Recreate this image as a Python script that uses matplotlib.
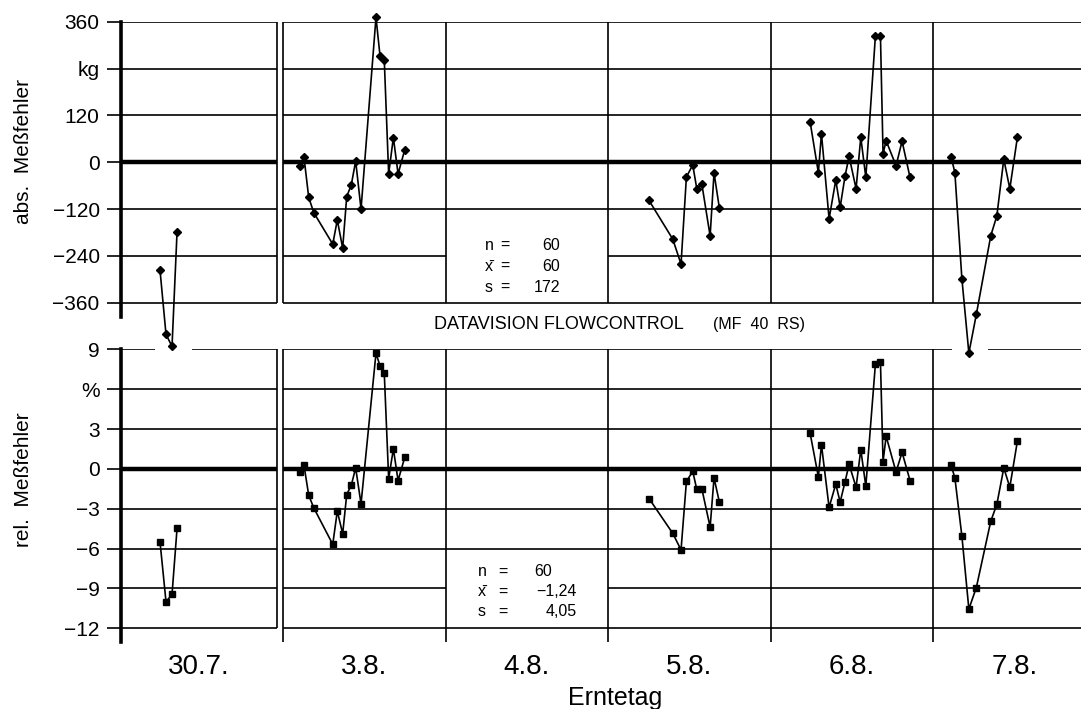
"""
Abs. und rel. Messfehler je Erntetag (DATAVISION FLOWCONTROL, MF 40 RS).
"""

import matplotlib
matplotlib.use("Agg")
import matplotlib.pyplot as plt

plt.rcParams['font.family'] = ['Liberation Sans', 'DejaVu Sans']

days = ['30.7.', '3.8.', '4.8.', '5.8.', '6.8.', '7.8.']

# position of each measurement inside its day section (0..1) and the errors
t_307 = [0.243, 0.280, 0.317, 0.348]
abs_307 = [-276, -441, -472, -178]
rel_307 = [-5.48, -10.0, -9.45, -4.48]

t_038 = [0.105, 0.129, 0.158, 0.189, 0.306, 0.334, 0.367, 0.392, 0.420,
         0.447, 0.480, 0.572, 0.597, 0.623, 0.650, 0.679, 0.708, 0.749]
abs_038 = [-9, 13, -90, -129, -210, -148, -220, -88, -58,
           3, -120, 371, 272, 262, -30, 63, -30, 32]
rel_038 = [-0.23, 0.27, -1.98, -2.93, -5.68, -3.18, -4.88, -1.93, -1.23,
           0.07, -2.63, 8.7, 7.75, 7.2, -0.73, 1.5, -0.88, 0.87]

t_058 = [0.252, 0.398, 0.449, 0.482, 0.521, 0.546, 0.577, 0.628, 0.652, 0.685]
abs_058 = [-98, -197, -261, -38, -7, -68, -56, -189, -27, -118]
rel_058 = [-2.23, -4.85, -6.1, -0.95, -0.18, -1.55, -1.5, -4.38, -0.68, -2.5]

t_068 = [0.243, 0.294, 0.313, 0.360, 0.401, 0.428, 0.458, 0.483, 0.526,
         0.555, 0.586, 0.645, 0.676, 0.692, 0.711, 0.772, 0.809, 0.858]
abs_068 = [104, -27, 73, -145, -46, -115, -36, 15, -68,
           64, -39, 324, 324, 22, 55, -9, 54, -39]
rel_068 = [2.7, -0.6, 1.82, -2.9, -1.15, -2.5, -0.98, 0.35, -1.38,
           1.45, -1.3, 7.9, 8.07, 0.55, 2.45, -0.23, 1.25, -0.88]

t_078 = [0.111, 0.134, 0.177, 0.220, 0.266, 0.355, 0.392, 0.435, 0.472, 0.519]
abs_078 = [14, -27, -298, -489, -390, -188, -138, 8, -68, 65]
rel_078 = [0.27, -0.68, -5.05, -10.55, -8.93, -3.93, -2.68, 0.07, -1.38, 2.12]

series = [(0, t_307, abs_307, rel_307),
          (1, t_038, abs_038, rel_038),
          (3, t_058, abs_058, rel_058),
          (4, t_068, abs_068, rel_068),
          (5, t_078, abs_078, rel_078)]

abs_ticks = [360, 240, 120, 0, -120, -240, -360]
abs_labels = ['360', 'kg', '120', '0', '\u2212120', '\u2212240', '\u2212360']
rel_ticks = [9, 6, 3, 0, -3, -6, -9, -12]
rel_labels = ['9', '%', '3', '0', '\u22123', '\u22126', '\u22129', '\u221212']

stats_abs = [('n', '60'), ('x\u0304', '60'), ('s', '172')]
stats_rel = [('n', '60'), ('x\u0304', '\u22121,24'), ('s', '4,05')]

# day sections on the x axis (first one is shorter, break before 3.8.)
sections = [(0, 0.963), (1, 2), (2, 3), (3, 4), (4, 5), (5, 5.91)]


def hgrid(ax, levels, skip=(), gaps=None):
    gaps = gaps or {}
    for i, (a, b) in enumerate(sections):
        for lv in levels:
            if (i, lv) in skip:
                continue
            lw = 3.2 if lv == 0 else 1.2
            pieces = [(a, b)]
            if (i, lv) in gaps:
                g0, g1 = gaps[(i, lv)]
                pieces = [(a, g0), (g1, b)]
            for p0, p1 in pieces:
                ax.hlines(lv, p0, p1, color='k', lw=lw, capstyle='butt')


def style_axis(ax, ticks, labels, ylim):
    ax.set_xlim(0, 5.91)
    ax.set_ylim(*ylim)
    for side in ['top', 'right', 'bottom']:
        ax.spines[side].set_visible(False)
    ax.spines['left'].set_linewidth(2.6)
    ax.set_yticks(ticks)
    ax.set_yticklabels(labels, fontsize=15)
    ax.tick_params(axis='y', length=10, width=1.2, pad=5)
    ax.set_xticks([])
    ax.patch.set_visible(False)


fig = plt.figure(figsize=(10.81, 7.09), dpi=100)
left = 120.5 / 1081
ax2 = fig.add_axes([left, 1 - 642 / 709, 1 - left, (642 - 349.3) / 709])
ax1 = fig.add_axes([left, 1 - 317 / 709, 1 - left, (317 - 21.7) / 709])
ax1.set_zorder(3)

style_axis(ax1, abs_ticks, abs_labels, (-396.6, 360))
style_axis(ax2, rel_ticks, rel_labels, (-13.03, 9))

hgrid(ax1, abs_ticks, skip=[(2, -240)])
hgrid(ax2, rel_ticks, skip=[(2, -9)],
      gaps={(0, 9): (0.212, 0.440), (5, 9): (5.117, 5.338)})

ax1.vlines([0.963, 1, 2, 3, 4, 5], -360, 360, color='k', lw=1.2)
ax2.vlines([0.963], -12, 9, color='k', lw=1.2)
ax2.vlines([1, 2, 3, 4, 5], -13.03, 9, color='k', lw=1.2)

for day, t, a, r in series:
    x = [day + v for v in t]
    ax1.plot(x, a, color='k', lw=1.2, marker='D', ms=4.5, clip_on=False,
             zorder=5)
    ax2.plot(x, r, color='k', lw=1.2, marker='s', ms=4.2, clip_on=False,
             zorder=5)

# day labels centred in their sections
for i, (a, b) in enumerate(sections):
    xc = 0.48 if i == 0 else a + 0.5
    ax2.text(xc, -13.9, days[i], ha='center', va='top', fontsize=20)

fig.text(615 / 1081, 1 - 705 / 709, 'Erntetag', ha='center', va='baseline',
         fontsize=18)
ax1.set_ylabel('abs.  Me\u00dffehler', fontsize=15)
ax2.set_ylabel('rel.  Me\u00dffehler', fontsize=15)
ax1.yaxis.set_label_coords((33 - 120.5) / 960.5, 0.559)
ax2.yaxis.set_label_coords((33 - 120.5) / 960.5, 0.553)

fig.text(434 / 1081, 1 - 325 / 709, 'DATAVISION FLOWCONTROL', ha='left',
         va='center', fontsize=13)
fig.text(713 / 1081, 1 - 325 / 709, '(MF  40  RS)', ha='left', va='center',
         fontsize=11.5)

# statistics boxes in the 4.8. section
for (sym, val), y in zip(stats_abs, [245, 266, 287]):
    fig.text(485 / 1081, 1 - y / 709, sym, ha='left', va='center', fontsize=11.5)
    fig.text(505 / 1081, 1 - y / 709, '=', ha='center', va='center',
             fontsize=11.5)
    fig.text(560 / 1081, 1 - y / 709, val, ha='right', va='center',
             fontsize=11.5)
for (sym, val), y, xr in zip(stats_rel, [572, 592, 612], [552, 577, 577]):
    fig.text(478 / 1081, 1 - y / 709, sym, ha='left', va='center', fontsize=11.5)
    fig.text(503 / 1081, 1 - y / 709, '=', ha='center', va='center',
             fontsize=11.5)
    fig.text(xr / 1081, 1 - y / 709, val, ha='right', va='center',
             fontsize=11.5)

fig.savefig('out.png', dpi=100, facecolor='white')
